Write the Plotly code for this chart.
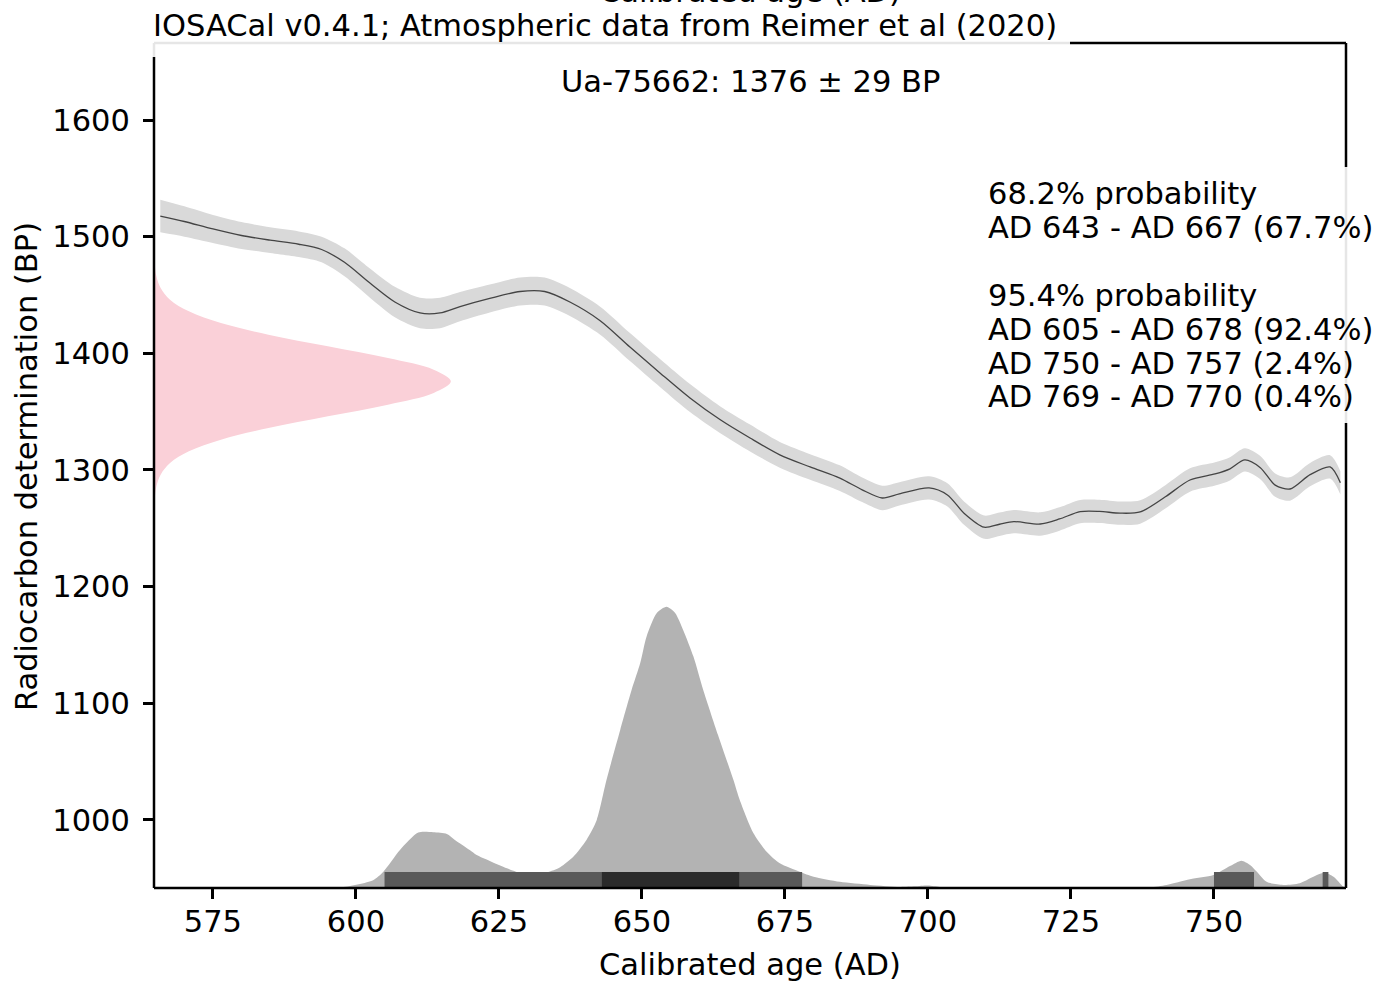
import plotly.graph_objects as go

# ---------------- data ----------------
# calibration curve (IntCal20 excerpt) : calendar year AD, radiocarbon age BP, 1-sigma
CURVE_YEAR = [565.8, 570, 575, 580, 585, 590, 594, 598, 602.5, 606.8, 611.2, 614.7, 618.2,
              623.4, 628.7, 633, 637.4, 642.7, 647.9, 653.2, 658.4, 663.7, 668.9, 674.1,
              679.4, 684.6, 688.5, 692, 695, 700.2, 703.4, 706.3, 709.8, 712.5, 715, 719.6,
              723, 726.6, 730, 733.6, 737.1, 741.5, 745.8, 750.2, 752.8, 755.4, 758.1,
              760.7, 763.3, 766.8, 770.3, 772.1]
CURVE_BP = [1517.7, 1513, 1506.6, 1501, 1497, 1493.5, 1489, 1478, 1460, 1444, 1434.6, 1434.6,
            1440, 1447, 1453, 1453, 1444, 1428, 1405.4, 1383, 1361.7, 1343, 1327.4, 1313,
            1302.6, 1293, 1283, 1276, 1279.5, 1284.6, 1278.6, 1263, 1251, 1253.5, 1255.7,
            1253.7, 1258, 1264.3, 1264.5, 1263, 1264, 1277, 1291.4, 1296.6, 1301, 1308.6,
            1302, 1287, 1283.7, 1296, 1302.6, 1289]
CURVE_SIGMA = [14, 13, 12, 11.5, 11, 11, 11, 12, 12.5, 13, 13, 13, 12.5, 12, 12, 12, 12, 12,
               12, 12, 12, 11.5, 11.5, 11, 11, 11, 10.5, 10.5, 10, 10, 10, 10, 10, 10, 10, 10,
               10, 10, 10, 10, 10, 10, 10, 10, 10, 10, 10, 10, 10, 10, 10, 10]

# radiocarbon determination
LAB_ID = "Ua-75662"
BP_MEAN = 1376
BP_SD = 29
# sampled density of the determination: offset from mean (BP) and plotted width (years)
DET_OFFSET = [-110, -100, -90, -80, -70, -60, -50, -40, -30, -20, -10, 0,
              10, 20, 30, 40, 50, 60, 70, 80, 90, 100, 110]
DET_WIDTH = [0.04, 0.14, 0.42, 1.16, 2.8, 6.1, 11.7, 20.0, 30.4, 40.9, 48.9, 51.9,
             48.9, 40.9, 30.4, 20.0, 11.7, 6.1, 2.8, 1.16, 0.42, 0.14, 0.04]

# calibrated probability distribution (relative, peak = 1)
DIST_YEAR = [564.7, 590.2, 597.2, 603.0, 604.8, 607.7, 610.9, 613.5, 615.9, 617.3, 619.9,
             621.1, 623.4, 626.4, 628.7, 631.0, 633.4, 635.7, 638.0, 640.3, 642.1, 643.8,
             646.2, 648.2, 649.7, 650.8, 652.6, 654.3, 655.8, 657.2, 659.0, 660.7, 663.3,
             666.0, 667.1, 669.5, 671.8, 674.1, 677.6, 680.0, 684.6, 689.9, 695.1, 697.7,
             700.0, 702.1, 705.6, 712.6, 730.1, 735.3, 738.8, 741.7, 745.8, 749.9, 752.8,
             754.8, 756.3, 757.5, 759.2, 762.1, 765.0, 768.0, 769.4, 770.9, 772.6, 773.1]
DIST_PROB = [0, 0, 0.002, 0.028, 0.058, 0.135, 0.197, 0.198, 0.192, 0.171, 0.135,
             0.117, 0.096, 0.070, 0.054, 0.051, 0.056, 0.074, 0.111, 0.171, 0.242, 0.384,
             0.562, 0.705, 0.800, 0.894, 0.978, 1.0, 0.978, 0.918, 0.823, 0.705, 0.544,
             0.384, 0.313, 0.195, 0.129, 0.088, 0.058, 0.040, 0.022, 0.011, 0.004, 0.006,
             0.009, 0.004, 0.001, 0, 0, 0.002, 0.0025, 0.011, 0.031, 0.046, 0.078,
             0.097, 0.082, 0.058, 0.022, 0.011, 0.017, 0.046, 0.054, 0.040, 0.005, 0]

# highest density ranges
RANGES_95 = [(605, 678), (750, 757), (769, 770)]
RANGES_68 = [(643, 667)]
TEXT_68 = ["68.2% probability", "AD 643 - AD 667 (67.7%)"]
TEXT_95 = ["95.4% probability", "AD 605 - AD 678 (92.4%)", "AD 750 - AD 757 (2.4%)",
           "AD 769 - AD 770 (0.4%)"]

X_TICKS = [575, 600, 625, 650, 675, 700, 725, 750]
Y_TICKS = [1000, 1100, 1200, 1300, 1400, 1500, 1600]

# ---------------- layout constants ----------------
W, H = 1378, 982
L, R, T, B = 154, 1346, 43, 888
X_RANGE = [564.7, 773.08]
Y_RANGE = [941.7, 1666.0]
DIST_SCALE = 241.0
BAR_HEIGHT = 13.7
FONT = "DejaVu Sans"
FS = 30.5


def px(xp):
    return (xp - L) / (R - L)


def py(yp):
    return (B - yp) / (B - T)


fig = go.Figure()

# calibration curve band
upper = [b + s for b, s in zip(CURVE_BP, CURVE_SIGMA)]
lower = [b - s for b, s in zip(CURVE_BP, CURVE_SIGMA)]
fig.add_trace(go.Scatter(x=CURVE_YEAR, y=upper, mode="lines",
                         line=dict(width=0, shape="spline", smoothing=0.8),
                         hoverinfo="skip", showlegend=False))
fig.add_trace(go.Scatter(x=CURVE_YEAR, y=lower, mode="lines", fill="tonexty",
                         fillcolor="#d9d9d9",
                         line=dict(width=0, shape="spline", smoothing=0.8),
                         hoverinfo="skip", showlegend=False))
fig.add_trace(go.Scatter(x=CURVE_YEAR, y=CURVE_BP, mode="lines",
                         line=dict(width=1.3, color="#444444", shape="spline", smoothing=0.8),
                         showlegend=False))

# radiocarbon determination (pink)
det_x = [X_RANGE[0] + w for w in DET_WIDTH]
det_y = [BP_MEAN + o for o in DET_OFFSET]
fig.add_trace(go.Scatter(x=det_x, y=det_y, mode="lines", fill="tozerox",
                         fillcolor="rgb(250,208,216)",
                         line=dict(width=0, shape="spline", smoothing=1.0),
                         showlegend=False))

# calibrated distribution (filled down to the axis bottom)
fig.add_trace(go.Scatter(x=DIST_YEAR, y=[Y_RANGE[0]] * len(DIST_YEAR), mode="lines",
                         line=dict(width=0), hoverinfo="skip", showlegend=False))
dist_y = [Y_RANGE[0] + p * DIST_SCALE for p in DIST_PROB]
fig.add_trace(go.Scatter(x=DIST_YEAR, y=dist_y, mode="lines", fill="tonexty",
                         fillcolor="#b3b3b3",
                         line=dict(width=0, shape="spline", smoothing=0.7),
                         showlegend=False))


# HPD range bars as filled rectangles
def rect_path(ranges):
    xs, ys = [], []
    y0, y1 = Y_RANGE[0], Y_RANGE[0] + BAR_HEIGHT
    for a, b in ranges:
        xs += [a, b, b, a, a, None]
        ys += [y0, y0, y1, y1, y0, None]
    return xs, ys


for ranges, col in ((RANGES_95, "#595959"), (RANGES_68, "#2b2b2b")):
    rx, ry = rect_path(ranges)
    fig.add_trace(go.Scatter(x=rx, y=ry, mode="lines", fill="toself", fillcolor=col,
                             line=dict(width=0), showlegend=False))

axis_common = dict(showgrid=False, zeroline=False, showline=False, ticks="outside",
                   ticklen=10, tickwidth=2.5, tickcolor="black",
                   tickfont=dict(family=FONT, size=FS, color="black"))
fig.update_layout(
    width=W, height=H, autosize=False,
    margin=dict(l=L, r=W - R, t=T, b=H - B),
    paper_bgcolor="white", plot_bgcolor="white",
    showlegend=False,
    font=dict(family=FONT, size=FS, color="black"),
    xaxis=dict(range=X_RANGE, tickvals=X_TICKS, ticktext=[str(v) for v in X_TICKS],
               ticklabelstandoff=-4, **axis_common),
    yaxis=dict(range=Y_RANGE, tickvals=Y_TICKS, ticktext=[str(v) for v in Y_TICKS],
               ticklabelstandoff=7, **axis_common),
)

shapes = []
spine = dict(type="line", xref="paper", yref="paper", layer="above",
             line=dict(color="black", width=2.5))
shapes.append(dict(spine, x0=0, x1=0, y0=0, y1=1))
shapes.append(dict(spine, x0=1, x1=1, y0=0, y1=1))
shapes.append(dict(spine, x0=0, x1=1, y0=1, y1=1))
shapes.append(dict(spine, x0=0, x1=1, y0=0, y1=0))
box = dict(type="rect", xref="paper", yref="paper", layer="above",
           fillcolor="rgba(255,255,255,0.9)", line=dict(width=0))
shapes.append(dict(box, x0=px(148), x1=px(1070), y0=py(57), y1=py(5)))
shapes.append(dict(box, x0=px(978), x1=px(1378), y0=py(423), y1=py(167)))
fig.update_layout(shapes=shapes)

ann = []
base_ann = dict(xref="paper", yref="paper", showarrow=False,
                font=dict(family=FONT, size=FS, color="black"))
ann.append(dict(base_ann, text="Calibrated age (AD)", x=0.5, y=py(965),
                xanchor="center", yanchor="middle"))
ann.append(dict(base_ann, text="Calibrated age (AD)", x=0.5, y=py(-8),
                xanchor="center", yanchor="middle"))
ann.append(dict(base_ann, text="Radiocarbon determination (BP)", x=px(27), y=py(467),
                xanchor="center", yanchor="middle", textangle=-90))
ann.append(dict(base_ann, text="IOSACal v0.4.1; Atmospheric data from Reimer et al (2020)",
                x=px(151), y=py(25), xanchor="left", yanchor="middle"))
ann.append(dict(base_ann, text=f"{LAB_ID}: {BP_MEAN} ± {BP_SD} BP", x=0.5, y=py(82),
                xanchor="center", yanchor="middle"))
line_y = [193, 227, 295, 329, 363, 397]
for t, yy in zip(TEXT_68 + TEXT_95, line_y):
    ann.append(dict(base_ann, text=t, x=px(986), y=py(yy), xanchor="left", yanchor="middle"))
fig.update_layout(annotations=ann)

fig.write_html("out.html")
